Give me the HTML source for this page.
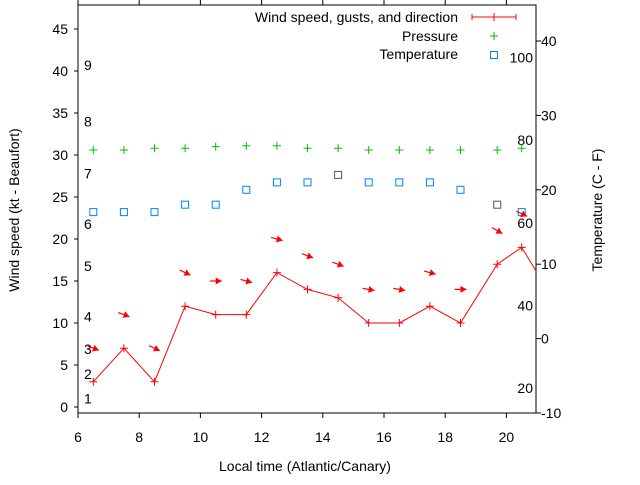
<!DOCTYPE html>
<html><head><meta charset="utf-8"><style>
body{margin:0;background:#fff;width:640px;height:480px;overflow:hidden}
svg{font-family:"Liberation Sans",sans-serif;font-size:14px}
</style></head><body>
<svg id="c" width="640" height="480"></svg>
<script>
const hours=[6.5,7.5,8.5,9.5,10.5,11.5,12.5,13.5,14.5,15.5,16.5,17.5,18.5,19.7,20.5,21.5];
const wind=[3,7,3,12,11,11,16,14,13,10,10,12,10,17,19,13];
const gusts=[7,11,7,16,15,15,20,18,17,14,14,16,14,21,23,20];
const dirAngles=[20,20,25,25,0,15,15,20,20,10,10,15,0,30,25,20];
const pressure=[30.6,30.6,30.8,30.8,31.0,31.1,31.1,30.8,30.8,30.6,30.6,30.6,30.6,30.6,30.8];
const temps=[17,17,17,18,18,20,21,21,22,21,21,21,20,18,17];
const tempGray=[0,0,0,0,0,0,0,0,1,0,0,0,0,1,0];
const xTicks=[6,8,10,12,14,16,18,20];
const yTicks=[0,5,10,15,20,25,30,35,40,45];
const y2Ticks=[-10,0,10,20,30,40];
const fTicks=[20,40,60,80,100];
const beaufort=[1,2,3,4,5,6,7,8,9];
const beaufortY=[1,3.9,6.9,10.8,16.8,21.8,27.8,34,40.7];
const L=78,R=536,T=5,B=413;
const X=h=>L+(h-6)*30.6;
const Y=v=>407-v*8.4;
const Y2=c=>338.6-c*7.44;
const NS="http://www.w3.org/2000/svg";
const svg=document.getElementById('c');
function mk(tag,attrs,parent){const e=document.createElementNS(NS,tag);for(const k in attrs)e.setAttribute(k,attrs[k]);(parent||svg).appendChild(e);return e;}
function txt(s,x,y,anchor,parent){const t=mk('text',{x:x,y:y,'text-anchor':anchor||'middle',fill:'#000'},parent);t.textContent=s;return t;}
// clip
const defs=mk('defs',{});const cp=mk('clipPath',{id:'pc'},defs);mk('rect',{x:L,y:T,width:R-L,height:B-T},cp);
const axes=mk('g',{stroke:'#000','stroke-width':1,fill:'none'});


mk('rect',{x:L,y:T,width:R-L,height:B-T},axes);
xTicks.forEach(h=>{const x=X(h);mk('line',{x1:x,y1:B,x2:x,y2:B+5},axes);mk('line',{x1:x,y1:T,x2:x,y2:T-5},axes);
 const t=txt(String(h),x,442);});
yTicks.forEach(v=>{const y=Y(v);mk('line',{x1:L-4,y1:y,x2:L,y2:y},axes);
 const t=txt(String(v),68,y+5,'end');});
y2Ticks.forEach(v=>{const y=Y2(v);mk('line',{x1:R,y1:y,x2:R+5,y2:y},axes);
 const t=txt(String(v),541,y+5,'start');});
fTicks.forEach(f=>{const y=Y2((f-32)/1.8);const t=txt(String(f),533,y+5,'end');});
beaufort.forEach((b,i)=>{const t=txt(String(b),84,Y(beaufortY[i])+5,'start');});
let t=txt('Local time (Atlantic/Canary)',305,471);
t=txt('Wind speed (kt - Beaufort)',0,0);t.setAttribute('transform','translate(19,210) rotate(-90)');
t=txt('Temperature (C - F)',0,0);t.setAttribute('transform','translate(602,210) rotate(-90)');
const plot=mk('g',{'clip-path':'url(#pc)'});
function plus(x,y,col,g){mk('path',{d:`M${x-4},${y}h8M${x},${y-4}v8`,stroke:col,'stroke-width':1,fill:'none'},g);}
// pressure
pressure.forEach((p,i)=>{const g=mk('g',{},plot);plus(X(hours[i]),Y(p),'#00c000',g);});
// temp
temps.forEach((c,i)=>{const r=mk('rect',{x:X(hours[i])-3.5,y:Y2(c)-3.5,width:7,height:7,fill:'none',stroke:tempGray[i]?'#555':'#0080ff','stroke-width':1},plot);});
// wind line
const pl=mk('polyline',{points:wind.map((w,i)=>X(hours[i])+','+Y(w)).join(' '),fill:'none',stroke:'#f00','stroke-width':1},plot);

wind.forEach((w,i)=>{const g=mk('g',{},plot);plus(X(hours[i]),Y(w),'#f00',g);});
// arrows
gusts.forEach((gv,i)=>{const cx=X(hours[i]),cy=Y(gv);const a=dirAngles[i]*Math.PI/180;const dx=Math.cos(a)*6,dy=Math.sin(a)*6;
 const g=mk('g',{},plot);
 mk('line',{x1:cx-dx,y1:cy-dy,x2:cx+dx,y2:cy+dy,stroke:'#f00','stroke-width':1.2},g);
 const hx=cx+dx,hy=cy+dy,ux=Math.cos(a),uy=Math.sin(a);
 const bx=hx-ux*6,by=hy-uy*6;
 mk('polygon',{points:`${hx},${hy} ${bx-uy*3.5},${by+ux*3.5} ${bx+uy*3.5},${by-ux*3.5}`,fill:'#f00'},g);});
// legend
const lg=mk('g',{});
t=txt('Wind speed, gusts, and direction',458,22,'end',lg);
mk('path',{d:'M472,17h44M472,14v6M516,14v6',stroke:'#f00',fill:'none'},lg);plus(494,17,'#f00',lg);
t=txt('Pressure',458,41,'end',lg);
plus(494,36,'#00c000',lg);
t=txt('Temperature',458,59,'end',lg);
mk('rect',{x:490.5,y:51.5,width:7,height:7,fill:'none',stroke:'#0080ff'},lg);
</script>
</body></html>
